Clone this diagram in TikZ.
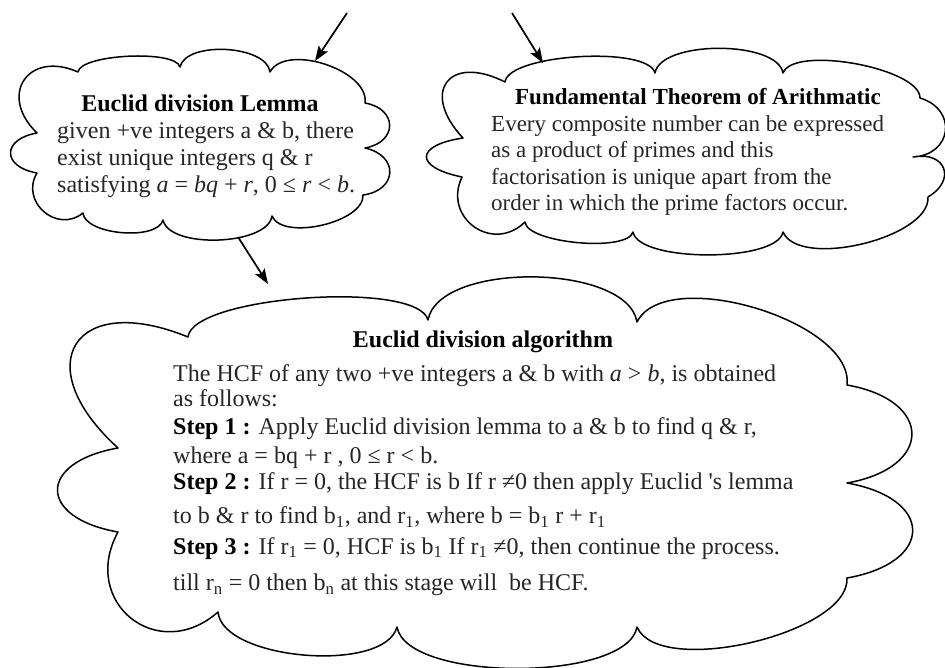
\documentclass[tikz,border=0pt]{standalone}
\usepackage{fontspec}
\setmainfont{Liberation Serif}
\usetikzlibrary{arrows.meta}

\begin{document}
\begin{tikzpicture}[
        x=1pt, y=1pt,
        cloudline/.style={draw=black, line width=1.5pt, fill=white, line join=round, line cap=round},
        puff/.style={bend left=80, looseness=#1},
        puff/.default=1,
        pointer/.style={line width=1.7pt, -{Stealth[length=15pt, width=11pt, inset=3pt]}},
        headline/.style={font=\fontsize{24}{27}\selectfont\bfseries, anchor=base, inner sep=0pt},
        bodytext/.style={font=\fontsize{24}{27}\selectfont, text=black!85, align=left, anchor=north west, inner sep=0pt}
    ]

    \useasboundingbox[fill=white] (0,0) rectangle (945,-668);

    % Wolken
    \draw[cloudline] (78,-72) to[puff=0.45] (180,-67) to[puff=0.77] (270,-72)
        to[puff=0.85] (365,-103) to[puff=1.9] (365,-148) to[puff=1.9] (363,-195)
        to[puff=0.75] (272,-216) to[puff=0.7] (163,-220) to[puff=0.7] (83,-213)
        to[puff=1.4] (37,-173) to[puff=2.3] (37,-133) to[puff=1.9] (78,-72) -- cycle;

    \draw[cloudline] (505,-82) to[puff=0.48] (655,-73) to[puff=0.67] (783,-73)
        to[puff=0.55] (920,-98) to[puff=1.7] (913,-157) to[puff=2] (928,-197)
        to[puff=0.7] (783,-232) to[puff=0.53] (633,-232) to[puff=0.5] (525,-222)
        to[puff=1.5] (462,-177) to[puff=3.2] (463,-138) to[puff=2.3] (505,-82) -- cycle;

    \draw[cloudline] (188,-337) to[puff=0.44] (428,-320) to[puff=0.73] (637,-322)
        to[puff=0.75] (847,-385) to[puff=2.3] (847,-483) to[puff=2.4] (847,-578)
        to[puff=0.66] (637,-627) to[puff=0.6] (397,-627) to[puff=0.69] (218,-612)
        to[puff=1.6] (118,-532) to[puff=2.5] (118,-448) to[puff=2.4] (188,-337) -- cycle;

    % Texte
    \node[headline] (lemmahead) at (200,-112) {Euclid division Lemma};
    \node[bodytext] (lemmabody) at (57,-121.7) {given +ve integers a \& b, there\\
        exist unique integers q \& r\\
        satisfying \textit{a} = \textit{bq} + \textit{r}, 0 ≤ \textit{r} < \textit{b}.};

    \node[headline, font=\fontsize{23}{26.3}\selectfont\bfseries] (fundhead) at (698,-105) {Fundamental Theorem of Arithmatic};
    \node[bodytext, font=\fontsize{23}{26.3}\selectfont] (fundbody) at (491,-115.3) {Every composite number can be expressed\\
        as a product of primes and this\\
        factorisation is unique apart from the\\
        order in which the prime factors occur.};

    \node[headline] (algohead) at (483,-347) {Euclid division algorithm};
    \node[bodytext] (algobody) at (173,-364.6) {The HCF of any two +ve integers a \& b with \textit{a} > \textit{b}, is obtained\\[-2pt]
        as follows:\\[1pt]
        \textcolor{black}{\textbf{Step 1 :}} Apply Euclid division lemma to a \& b to find q \& r,\\[1.5pt]
        where a = bq + r , 0 ≤ r < b.\\[-0.5pt]
        \textcolor{black}{\textbf{Step 2 :}} If r = 0, the HCF is b If r ≠0 then apply Euclid \textquotesingle s lemma\\[7pt]
        to b \& r to find b\textsubscript{1}, and r\textsubscript{1}, where b = b\textsubscript{1} r + r\textsubscript{1}\\[3.5pt]
        \textcolor{black}{\textbf{Step 3 :}} If r\textsubscript{1} = 0, HCF is b\textsubscript{1} If r\textsubscript{1} ≠0, then continue the process.\\[9.5pt]
        till r\textsubscript{n} = 0 then b\textsubscript{n} at this stage will~ be HCF.};

    % Pfeile
    \coordinate (lemmafrom) at (347,-13);
    \coordinate (lemmatip) at (315,-61);
    \coordinate (fundfrom) at (512,-13);
    \coordinate (fundtip) at (543,-63);
    \coordinate (lemmaout) at (238,-237);
    \coordinate (algotip) at (268,-284);

    \draw[pointer] (lemmafrom) -- (lemmatip);
    \draw[pointer] (fundfrom) -- (fundtip);
    \draw[pointer] (lemmaout) -- (algotip);

\end{tikzpicture}
\end{document}
